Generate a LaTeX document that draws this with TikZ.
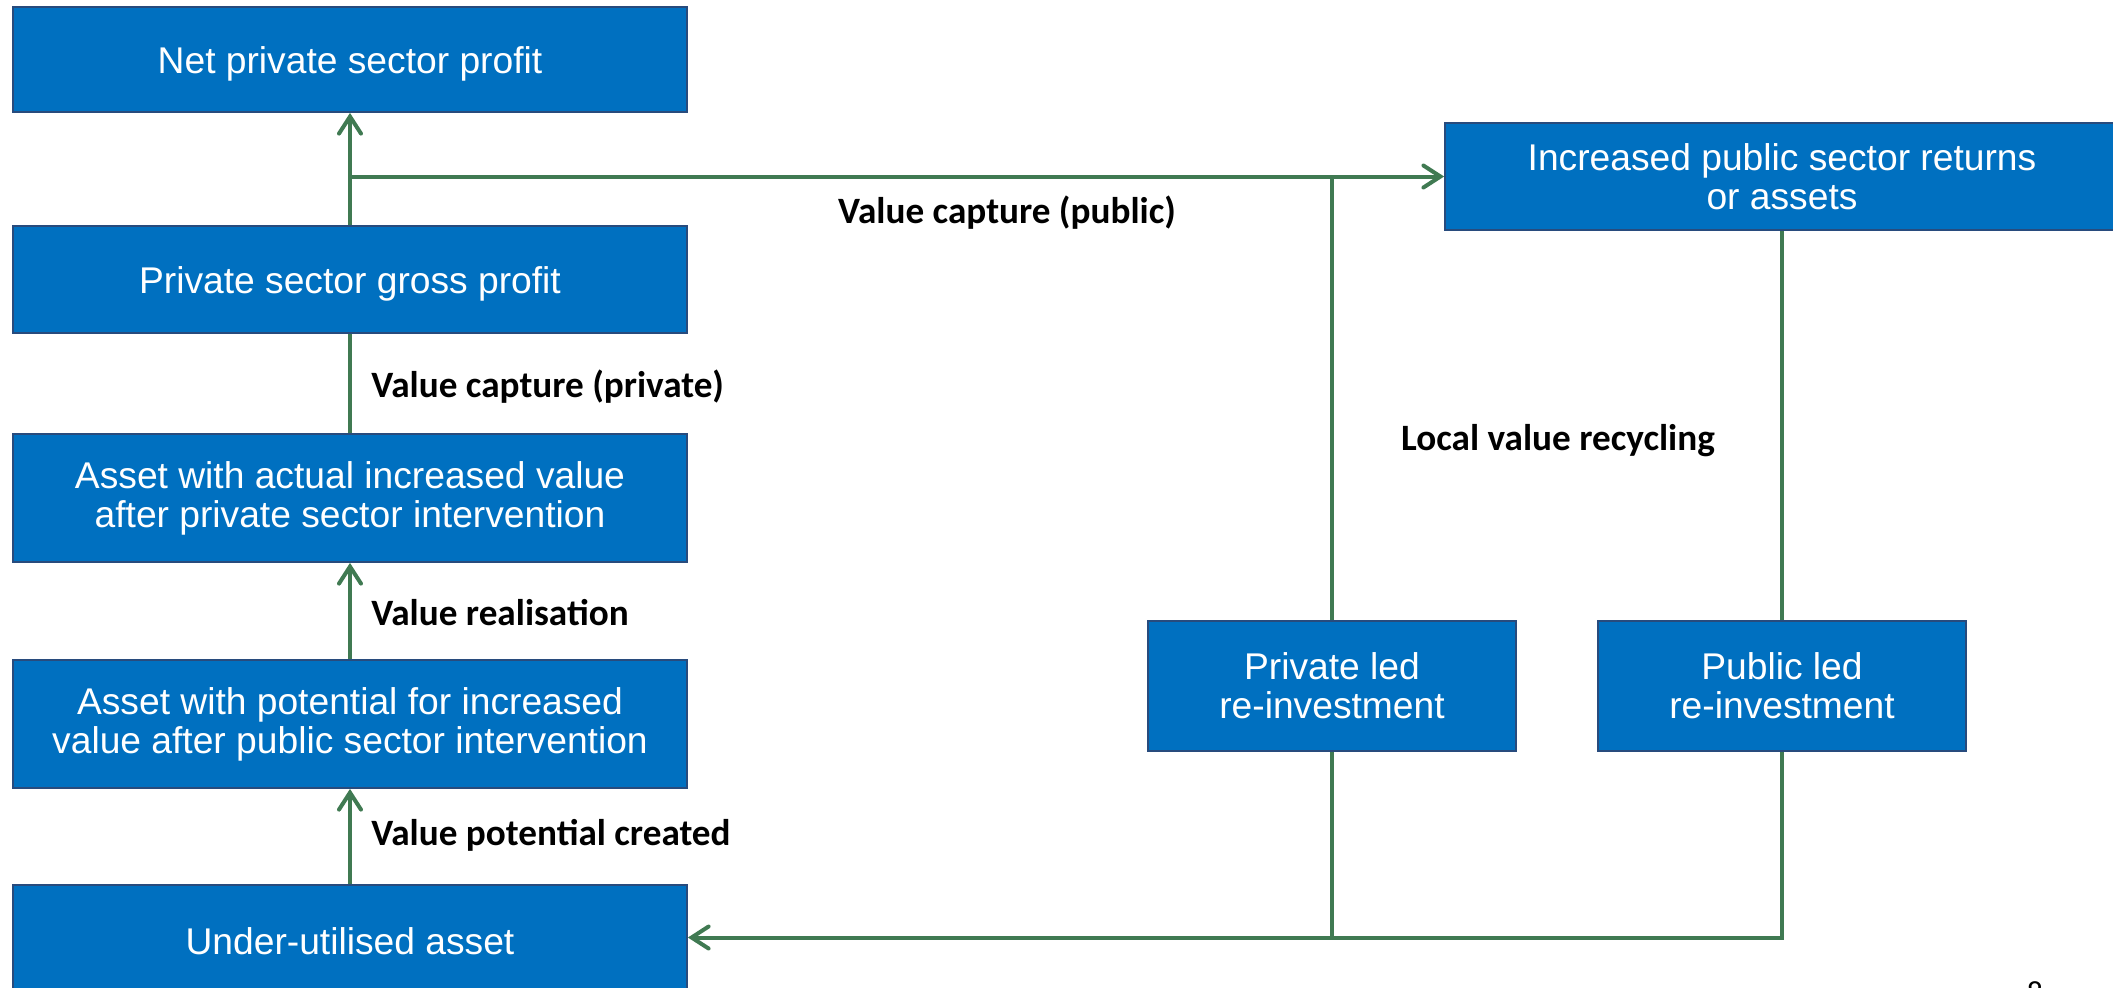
\documentclass[tikz,border=0pt]{standalone}
\usepackage{fontspec}
\setmainfont{Liberation Sans}
\newfontfamily\lblfamily{Carlito}
\usetikzlibrary{arrows.meta}
\definecolor{boxblue}{RGB}{0,112,192}
\definecolor{boxline}{RGB}{40,75,125}
\definecolor{linkgreen}{RGB}{64,122,82}
\tikzset{
  box/.style={draw=boxline, fill=boxblue, line width=0.9pt, text=white,
    align=center, inner sep=0pt,
    font=\fontsize{18.6pt}{19.5pt}\selectfont},
  widebox/.style={box, minimum width=337pt},
  lowtext/.style={execute at begin node={\rule{0pt}{17.5pt}}},
  smallbox/.style={box, minimum width=184pt, minimum height=65pt},
  link/.style={draw=linkgreen, line width=2pt},
  arr/.style={link, -{Straight Barb[length=8.5pt,width=11pt,line cap=round]}},
  lbl/.style={font=\lblfamily\bfseries\fontsize{18.6pt}{20pt}\selectfont, inner sep=0pt},
}
\begin{document}
\begin{tikzpicture}[x=0.5pt, y=-0.5pt]
\useasboundingbox (0,0) rectangle (2113,987);
% boxes
\node[widebox, lowtext, minimum height=52.5pt] (np) at (350,59.5) {Net private sector profit};
\node[widebox, lowtext, minimum height=53.5pt] (gp) at (350,279.5) {Private sector gross profit};
\node[widebox, lowtext, minimum height=64pt] (aa) at (350,498) {Asset with actual increased value\\after private sector intervention};
\node[widebox, lowtext, minimum height=64pt] (ap) at (350,724) {Asset with potential for increased\\value after public sector intervention};
\node[widebox, lowtext, minimum height=52.5pt] (ua) at (350,937.5) {Under-utilised asset};
\node[widebox, minimum height=53.5pt] (ip) at (1782,176.5) {Increased public sector returns\\or assets};
\node[smallbox] (prl) at (1332,686) {Private led\\re-investment};
\node[smallbox] (pul) at (1782,686) {Public led\\re-investment};
% connectors
\draw[arr] (ap.north) -- (aa.south);
\draw[arr] (ua.north) -- (ap.south);
\draw[link] (aa.north) -- (gp.south);
\draw[arr] (gp.north) -- (np.south);
\coordinate (j1) at (gp.north |- ip.west);
\draw[arr] (j1) -- (ip.west);
\draw[link] (prl.north) -- (prl.north |- ip.west);
\draw[link] (pul.north) -- (ip.south);
\draw[link] (prl.south) -- (prl.south |- ua.east);
\draw[arr] (pul.south) |- (ua.east);
% labels
\node[lbl, anchor=west] (l1) at (371,387) {Value capture (private)};
\node[lbl, anchor=west] (l2) at (371,613) {Value realisation};
\node[lbl, anchor=west] (l3) at (371,835) {Value potential created};
\node[lbl] (l4) at (1007,213) {Value capture (public)};
\node[lbl] (l5) at (1558,441) {Local value recycling};
\node[anchor=north, inner sep=0pt, font=\lblfamily\fontsize{16pt}{18pt}\selectfont] (pg) at (2035,981) {8};
\end{tikzpicture}
\end{document}
